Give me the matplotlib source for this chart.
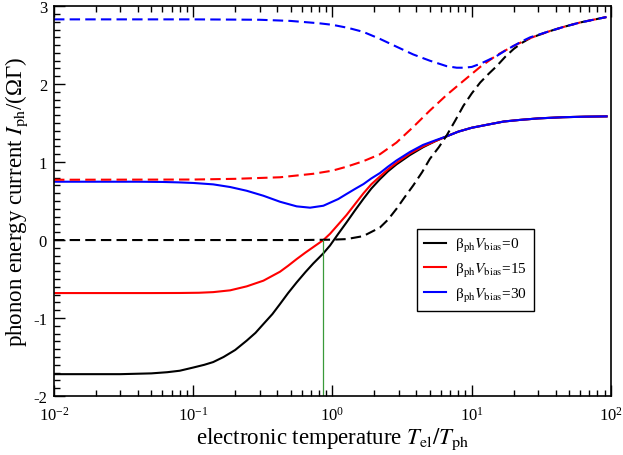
import numpy as np
import matplotlib.pyplot as plt
from matplotlib.ticker import LogLocator, MultipleLocator, NullFormatter

plt.rcParams['font.family'] = ['Liberation Serif', 'DejaVu Serif']
plt.rcParams['mathtext.fontset'] = 'stix'
plt.rcParams['axes.unicode_minus'] = False

# valores (x = T_el/T_ph)
x_bk = [0.01, 0.03, 0.05, 0.065, 0.08, 0.1, 0.12, 0.139, 0.165, 0.2, 0.242, 0.28, 0.319,
        0.37, 0.42, 0.48, 0.553, 0.64, 0.728, 0.86, 0.96, 1.1, 1.26, 1.45, 1.67, 1.9, 2.19,
        2.5, 2.88, 3.6, 4.47, 5.5, 6.6, 8, 10, 13, 17, 22, 30, 45, 65, 93]
y_bk = [-1.72, -1.72, -1.71, -1.695, -1.676, -1.635, -1.6, -1.565, -1.5, -1.41, -1.29, -1.19,
        -1.077, -0.95, -0.82, -0.68, -0.543, -0.41, -0.30, -0.17, -0.07, 0.08, 0.225, 0.38,
        0.53, 0.66, 0.78, 0.88, 0.97, 1.09, 1.19, 1.27, 1.33, 1.39, 1.44, 1.48, 1.52, 1.54,
        1.56, 1.575, 1.582, 1.586]

x_rd = [0.01, 0.05, 0.08, 0.11, 0.139, 0.184, 0.242, 0.319, 0.42, 0.48, 0.553, 0.64, 0.728,
        0.86, 0.96, 1.1, 1.26, 1.45, 1.67, 1.9, 2.19, 2.5, 2.88, 3.6, 4.47, 5.5, 6.6, 8,
        10, 13, 17, 22, 30, 45, 65, 93]
y_rd = [-0.68, -0.68, -0.679, -0.676, -0.668, -0.645, -0.594, -0.521, -0.406, -0.33, -0.244,
        -0.16, -0.09, 0.0, 0.08, 0.2, 0.32, 0.46, 0.60, 0.715, 0.815, 0.905, 0.99, 1.11, 1.20,
        1.27, 1.33, 1.39, 1.44, 1.48, 1.52, 1.54, 1.56, 1.575, 1.582, 1.586]

x_bl = [0.01, 0.04, 0.06, 0.08, 0.1, 0.139, 0.184, 0.242, 0.319, 0.42, 0.553, 0.69, 0.86,
        1.1, 1.26, 1.45, 1.67, 1.9, 2.19, 2.5, 2.88, 3.6, 4.47, 5.5, 6.6, 8, 10, 13, 17,
        22, 30, 45, 65, 93]
y_bl = [0.748, 0.748, 0.745, 0.739, 0.732, 0.714, 0.68, 0.632, 0.568, 0.491, 0.432, 0.415,
        0.44, 0.526, 0.59, 0.655, 0.718, 0.79, 0.859, 0.94, 1.02, 1.13, 1.22, 1.28, 1.33,
        1.39, 1.44, 1.48, 1.52, 1.54, 1.56, 1.575, 1.582, 1.586]

x_bk_d = [0.01, 0.3, 0.6, 1.0, 1.26, 1.66, 2.19, 2.5, 2.88, 3.3, 3.8, 4.4, 5.0, 5.8, 6.6,
          7.6, 8.7, 10, 11.5, 13.2, 15.1, 17.4, 20, 23, 26.3, 35, 45, 60, 93]
y_bk_d = [0.0, 0.0, 0.0, 0.005, 0.012, 0.05, 0.16, 0.26, 0.40, 0.55, 0.70, 0.87, 1.04,
          1.19, 1.34, 1.53, 1.72, 1.88, 2.02, 2.13, 2.23, 2.35, 2.45, 2.53, 2.59, 2.67,
          2.73, 2.79, 2.86]

x_rd_d = [0.01, 0.1, 0.2, 0.42, 0.73, 1.0, 1.26, 1.66, 2.19, 2.88, 3.8, 5.0, 6.6, 8.7,
          11.5, 15.1, 20, 26.3, 35, 45, 60, 93]
y_rd_d = [0.773, 0.776, 0.785, 0.805, 0.85, 0.89, 0.94, 1.01, 1.10, 1.25, 1.45, 1.66, 1.86,
          2.04, 2.22, 2.37, 2.49, 2.59, 2.67, 2.73, 2.79, 2.86]

x_bl_d = [0.01, 0.1, 0.3, 0.5, 0.8, 1.0, 1.3, 1.66, 2.19, 2.88, 3.8, 5.0, 6.6, 7.8, 8.7,
          10, 11.5, 13.2, 15.1, 17.4, 20, 23, 26.3, 35, 45, 60, 93]
y_bl_d = [2.83, 2.83, 2.825, 2.81, 2.78, 2.76, 2.72, 2.67, 2.58, 2.48, 2.38, 2.30, 2.23,
          2.21, 2.21, 2.22, 2.26, 2.31, 2.36, 2.43, 2.49, 2.55, 2.60, 2.67, 2.73, 2.79, 2.86]

labels = ['β$_{\\rm ph}$$V_{\\rm bias}$=0', 'β$_{\\rm ph}$$V_{\\rm bias}$=15',
          'β$_{\\rm ph}$$V_{\\rm bias}$=30']
cores = ['black', 'red', 'blue']

x_verde = 0.86

fig = plt.figure(figsize=(6.23, 4.56), dpi=100)
ax = fig.add_axes([0.0867, 0.1294, 0.894, 0.855])

lw = 1.5
dash = (0, (5, 2.5))
ax.plot(x_bk, y_bk, color=cores[0], lw=lw, label=labels[0])
ax.plot(x_rd, y_rd, color=cores[1], lw=lw, label=labels[1])
ax.plot(x_bl, y_bl, color=cores[2], lw=lw, label=labels[2])
ax.plot(x_bk_d, y_bk_d, color=cores[0], lw=lw, ls=dash)
ax.plot(x_rd_d, y_rd_d, color=cores[1], lw=lw, ls=dash)
ax.plot(x_bl_d, y_bl_d, color=cores[2], lw=lw, ls=dash)
ax.plot([x_verde, x_verde], [-2, 0], color='#3a9a3a', lw=0.9)

ax.set_xscale('log')
ax.set_xlim(0.01, 100)
ax.set_ylim(-2, 3)
ax.xaxis.set_major_locator(LogLocator(base=10, numticks=10))
ax.xaxis.set_minor_locator(LogLocator(base=10, subs=np.arange(2, 10), numticks=20))
ax.xaxis.set_minor_formatter(NullFormatter())
ax.yaxis.set_major_locator(MultipleLocator(1))
ax.yaxis.set_minor_locator(MultipleLocator(0.1))

ax.tick_params(which='both', direction='in', top=True, right=False, labelsize=12)
ax.tick_params(axis='x', pad=7)
ax.tick_params(axis='y', pad=5)
ax.tick_params(which='major', length=8, width=1)
ax.tick_params(which='minor', length=4, width=1)
for s in ax.spines.values():
    s.set_linewidth(1.2)

ax.set_xlabel('electronic temperature $T_{\\rm el}/T_{\\rm ph}$', fontsize=16.5, labelpad=1)
ax.set_ylabel('phonon energy current $I_{\\rm ph}$/(ΩΓ)', fontsize=16.5, labelpad=2)

leg = ax.legend(loc='upper left', bbox_to_anchor=(0.652, 0.428), fontsize=11,
                frameon=True, fancybox=False, framealpha=1, edgecolor='black',
                handlelength=1.45, handletextpad=0.6, borderpad=0.45, labelspacing=0.45,
                borderaxespad=0)
leg.get_frame().set_linewidth(1.0)

fig.savefig('out.png', dpi=100)
